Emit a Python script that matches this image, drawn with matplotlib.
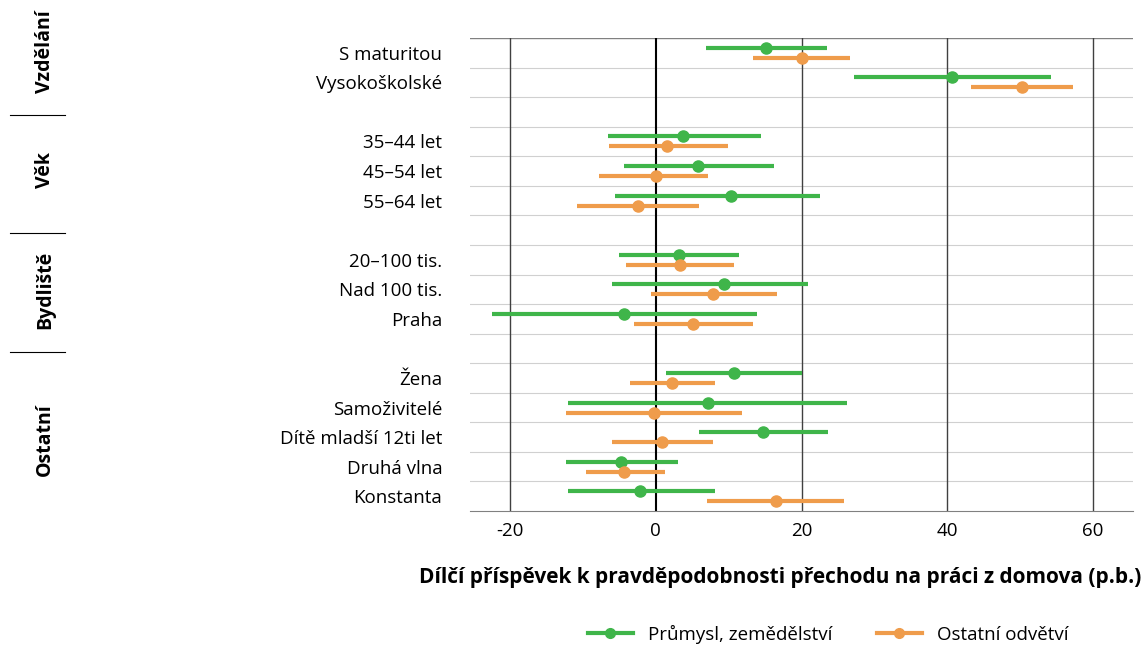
import numpy as np
import matplotlib.pyplot as plt
from matplotlib.lines import Line2D

plt.rcParams['font.family'] = ['Open Sans', 'DejaVu Sans']
plt.rcParams['axes.unicode_minus'] = False

labels = ["S maturitou", "Vysokoškolské", "", "35–44 let", "45–54 let", "55–64 let", "",
          "20–100 tis.", "Nad 100 tis.", "Praha", "", "Žena", "Samoživitelé",
          "Dítě mladší 12ti let", "Druhá vlna", "Konstanta"]
# (low, point, high); None for blank spacer rows
green = [(6.9, 15.1, 23.5), (27.2, 40.6, 54.2), None, (-6.6, 3.8, 14.4), (-4.4, 5.8, 16.2),
         (-5.6, 10.3, 22.6), None, (-5.1, 3.2, 11.4), (-6.0, 9.3, 20.9), (-22.5, -4.3, 13.9),
         None, (1.4, 10.7, 20.0), (-12.1, 7.1, 26.3), (5.9, 14.7, 23.6), (-12.3, -4.8, 3.0),
         (-12.1, -2.1, 8.1)]
orange = [(13.3, 20.0, 26.7), (43.3, 50.3, 57.2), None, (-6.4, 1.6, 9.9), (-7.8, 0.0, 7.1),
          (-10.8, -2.5, 5.9), None, (-4.1, 3.3, 10.7), (-0.7, 7.8, 16.6), (-3.0, 5.1, 13.3),
          None, (-3.6, 2.2, 8.1), (-12.3, -0.3, 11.9), (-6.0, 0.8, 7.8), (-9.6, -4.3, 1.2),
          (7.0, 16.5, 25.9)]
groups = [("Vzdělání", 52), ("Věk", 170), ("Bydliště", 290), ("Ostatní", 440)]
sep_y = [115, 233, 352]

c_green = "#3fb54a"
c_orange = "#ef9c4b"

fig = plt.figure(figsize=(11.41, 6.46), dpi=100)
ax = fig.add_axes([470/1141, 1-511/646, 663/1141, 473/646])

for i in range(len(labels)):
    for data, c, off in ((green, c_green, -0.17), (orange, c_orange, 0.17)):
        d = data[i]
        if d is None:
            continue
        y = i + 0.5 + off
        ax.plot([d[0], d[2]], [y, y], color=c, lw=3, solid_capstyle='butt', zorder=3)
        ax.plot(d[1], y, 'o', color=c, ms=8, zorder=4)

for k in range(1, 16):
    ax.axhline(k, color="#d0d0d0", lw=0.8, zorder=1)
ax.axhline(0, color="#808080", lw=1, zorder=1)
for v in (-20, 20, 40, 60):
    ax.axvline(v, color="#404040", lw=1, zorder=2)
ax.axvline(0, color="black", lw=1.5, zorder=2)

ax.set_xlim(-25.5, 65.5)
ax.set_ylim(16, 0)
ax.set_xticks([-20, 0, 20, 40, 60])
ax.set_yticks(np.arange(len(labels)) + 0.5)
ax.set_yticklabels(labels, fontsize=13.5)
ax.tick_params(axis='x', labelsize=13.5, length=0, pad=8)
ax.tick_params(axis='y', length=0, pad=20)
for s in ("top", "left", "right"):
    ax.spines[s].set_visible(False)
ax.spines["bottom"].set_color("#808080")
ax.set_xlabel("Dílčí příspěvek k pravděpodobnosti přechodu na práci z domova (p.b.)",
              fontsize=15, fontweight='bold')
ax.xaxis.set_label_coords((780 - 470)/663, -56/473)

for name, yp in groups:
    fig.text(45/1141, 1-yp/646, name, rotation=90, ha='center', va='center',
             fontsize=14, fontweight='bold')
for yp in sep_y:
    fig.add_artist(Line2D([10/1141, 65/1141], [1-yp/646, 1-yp/646], color="black", lw=0.8))

handles = [Line2D([], [], color=c_green, lw=3, marker='o', ms=7),
           Line2D([], [], color=c_orange, lw=3, marker='o', ms=7)]
fig.legend(handles, ["Průmysl, zemědělství", "Ostatní odvětví"], loc='center',
           bbox_to_anchor=(828/1141, 1-634/646), ncol=2, frameon=False, fontsize=13.5,
           handlelength=2.4, columnspacing=2.4)

fig.savefig("out.png", dpi=100)
